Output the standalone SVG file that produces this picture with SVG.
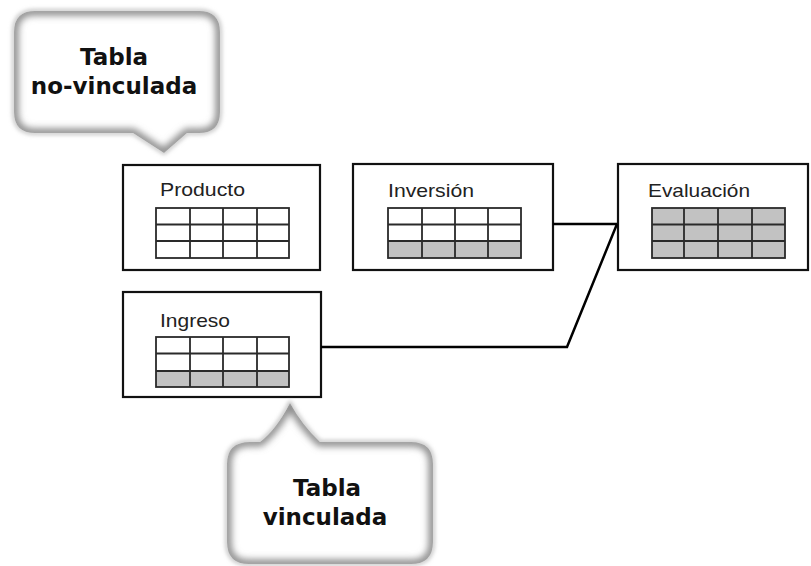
<svg xmlns="http://www.w3.org/2000/svg" width="811" height="566" viewBox="0 0 811 566">
<defs>
<filter id="bev" x="-20%" y="-20%" width="140%" height="140%">
<feGaussianBlur stdDeviation="3.5"/>
</filter>
<filter id="halo" x="-20%" y="-20%" width="140%" height="140%">
<feGaussianBlur stdDeviation="2"/>
</filter>
<path id="b1" d="M35,11 H199 Q220,11 220,32 V112 Q220,133 199,133 H187 L164,153 L133,133 H35 Q14,133 14,112 V32 Q14,11 35,11 Z"/>
<path id="b2" d="M250,442 H260 Q276,430 290,403 Q302,425 320,442 H411 Q433,442 433,464 V542 Q433,564 411,564 H249 Q227,564 227,542 V464 Q227,442 250,442 Z"/>
<clipPath id="c1"><use href="#b1"/></clipPath>
<clipPath id="c2"><use href="#b2"/></clipPath>
<style>
.box{fill:#fff;stroke:#111;stroke-width:2.2}
.grid{stroke:#2a2a2a;stroke-width:1.8;fill:none}
.cell{fill:#fff}
.shade{fill:#c2c2c2}
.lbl{font-family:"Liberation Sans",Arial,sans-serif;font-size:19px;fill:#222}
.call{font-family:"DejaVu Sans",Verdana,sans-serif;font-weight:bold;font-size:23px;fill:#111;text-anchor:middle}
.conn{fill:none;stroke:#000;stroke-width:2.5;stroke-linejoin:miter}
.halo{fill:none;stroke:#b5b5b5;stroke-width:3;filter:url(#halo)}
.bub{fill:#fff}
.inner{fill:none;stroke:#8c8c8c;stroke-width:9;filter:url(#bev)}
</style>
</defs>
<rect width="811" height="566" fill="#fff"/>

<g id="callout-no-vinculada">
<use href="#b1" class="halo"/>
<use href="#b1" class="bub"/>
<g clip-path="url(#c1)"><use href="#b1" class="inner"/></g>
<text class="call" x="114" y="65">Tabla</text>
<text class="call" x="114" y="94">no-vinculada</text>
</g>

<g id="producto">
<rect class="box" x="123" y="165" width="197" height="105"/>
<text class="lbl" x="160" y="196" textLength="85" lengthAdjust="spacingAndGlyphs">Producto</text>
<rect class="cell" x="156" y="208" width="133" height="50"/>
<g class="grid">
<rect x="156" y="208" width="133" height="50"/>
<path d="M156,224.5 H289 M156,241 H289 M190,208 V258 M223,208 V258 M257,208 V258"/>
</g>
</g>

<g id="inversion">
<rect class="box" x="353" y="164" width="200" height="106"/>
<text class="lbl" x="388" y="197" textLength="86" lengthAdjust="spacingAndGlyphs">Inversión</text>
<rect class="cell" x="388" y="208" width="133" height="50"/>
<rect class="shade" x="388" y="241" width="133" height="17"/>
<g class="grid">
<rect x="388" y="208" width="133" height="50"/>
<path d="M388,224.5 H521 M388,241 H521 M422,208 V258 M455,208 V258 M488,208 V258"/>
</g>
</g>

<g id="evaluacion">
<rect class="box" x="618" y="164" width="190" height="106"/>
<text class="lbl" x="648" y="197" textLength="102" lengthAdjust="spacingAndGlyphs">Evaluación</text>
<rect class="shade" x="652" y="208" width="133" height="50"/>
<g class="grid">
<rect x="652" y="208" width="133" height="50"/>
<path d="M652,224.5 H785 M652,241 H785 M684,208 V258 M718,208 V258 M752,208 V258"/>
</g>
</g>

<g id="ingreso">
<rect class="box" x="123" y="292" width="198" height="105"/>
<text class="lbl" x="160" y="327" textLength="70" lengthAdjust="spacingAndGlyphs">Ingreso</text>
<rect class="cell" x="156" y="337" width="133" height="50"/>
<rect class="shade" x="156" y="371" width="133" height="16"/>
<g class="grid">
<rect x="156" y="337" width="133" height="50"/>
<path d="M156,353.5 H289 M156,371 H289 M190,337 V387 M223,337 V387 M257,337 V387"/>
</g>
</g>

<g id="connectors">
<path class="conn" d="M553,224 H617"/>
<path class="conn" d="M321,347 H567 L617,224"/>
</g>

<g id="callout-vinculada">
<use href="#b2" class="halo"/>
<use href="#b2" class="bub"/>
<g clip-path="url(#c2)"><use href="#b2" class="inner"/></g>
<text class="call" x="327" y="496">Tabla</text>
<text class="call" x="325" y="525">vinculada</text>
</g>
</svg>
